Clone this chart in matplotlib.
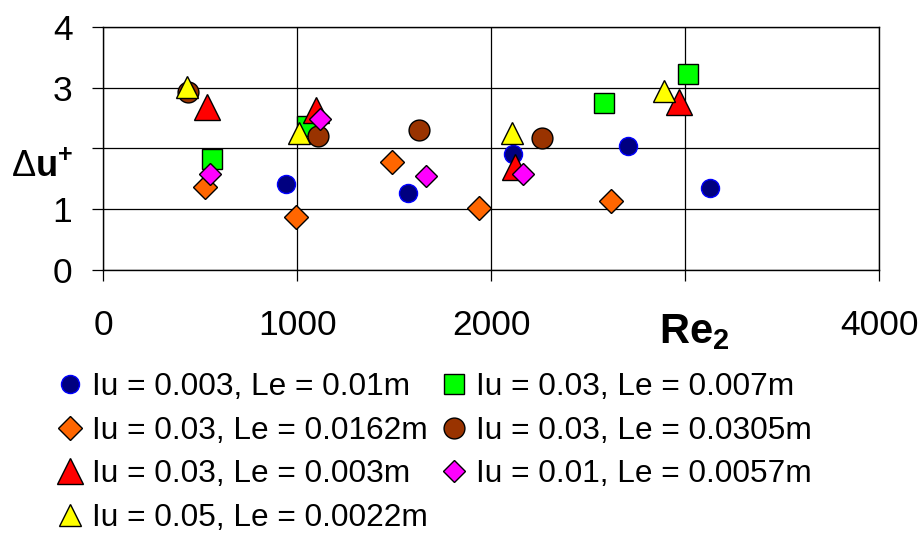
import matplotlib
matplotlib.use("Agg")
import matplotlib.pyplot as plt

plt.rcParams['font.family'] = ['Liberation Sans', 'DejaVu Sans']
plt.rcParams['mathtext.fontset'] = 'custom'
plt.rcParams['mathtext.rm'] = 'Liberation Sans'
plt.rcParams['mathtext.bf'] = 'Liberation Sans:bold'
plt.rcParams['mathtext.it'] = 'Liberation Sans:italic'

# ---- data ----
labels = ["Iu = 0.003, Le = 0.01m", "Iu = 0.03, Le = 0.007m",
          "Iu = 0.03, Le = 0.0162m", "Iu = 0.03, Le = 0.0305m",
          "Iu = 0.03, Le = 0.003m", "Iu = 0.01, Le = 0.0057m",
          "Iu = 0.05, Le = 0.0022m"]
re_blue = [941, 1569, 2113, 2706, 3127]
du_blue = [1.41, 1.27, 1.91, 2.04, 1.35]
re_green = [563, 1049, 2582, 3012]
du_green = [1.83, 2.37, 2.75, 3.22]
re_orange = [525, 996, 1490, 1937, 2620]
du_orange = [1.36, 0.87, 1.77, 1.02, 1.13]
re_brown = [439, 1109, 1628, 2261]
du_brown = [2.93, 2.20, 2.30, 2.17]
re_red = [534, 1100, 2122, 2967]
du_red = [2.68, 2.63, 1.70, 2.76]
re_magenta = [551, 1118, 1664, 2165]
du_magenta = [1.58, 2.48, 1.55, 1.58]
re_yellow = [434, 1011, 2108, 2890]
du_yellow = [3.01, 2.25, 2.25, 2.94]

x_ticks = [0, 1000, 2000, 3000, 4000]
x_tick_labels = ["0", "1000", "2000", "", "4000"]
y_ticks = [0, 1, 2, 3, 4]
y_tick_labels = ["0", "1", "", "3", "4"]

W, H = 922, 534
fig = plt.figure(figsize=(W / 100, H / 100), dpi=100)
ax = fig.add_axes([103 / W, 1 - 270 / H, (879.3 - 103) / W, (270 - 26.7) / H])

styles = [
    dict(marker='o', ms=13, mfc='#000080', mec='#0000FF', mew=1.0),
    dict(marker='s', ms=15, mfc='#00FF00', mec='black', mew=1.0),
    dict(marker='D', ms=12.7, mfc='#FF6600', mec='black', mew=1.0),
    dict(marker='o', ms=15, mfc='#993300', mec='black', mew=1.0),
    dict(marker='^', ms=18.5, mfc='#FF0000', mec='black', mew=1.0),
    dict(marker='D', ms=11.7, mfc='#FF00FF', mec='black', mew=1.0),
    dict(marker='^', ms=16, mfc='#FFFF00', mec='black', mew=1.0),
]
series = [(re_blue, du_blue), (re_green, du_green), (re_orange, du_orange),
          (re_brown, du_brown), (re_red, du_red), (re_magenta, du_magenta),
          (re_yellow, du_yellow)]

handles = []
for (xs, ys), st, lab in zip(series, styles, labels):
    h, = ax.plot(xs, ys, linestyle='none', label=lab, zorder=3, **st)
    handles.append(h)

ax.set_xlim(0, 4000)
ax.set_ylim(0, 4)
ax.set_xticks(x_ticks)
ax.set_xticklabels(x_tick_labels)
ax.set_yticks(y_ticks)
ax.set_yticklabels(y_tick_labels)
ax.grid(True, color='black', linewidth=0.9, zorder=0)
ax.set_axisbelow(True)
for s in ax.spines.values():
    s.set_linewidth(1.0)
    s.set_color('black')
ax.tick_params(axis='x', direction='out', length=8, width=0.9, pad=20, labelsize=25.5)
ax.tick_params(axis='y', direction='out', length=8, width=0.9, pad=14, labelsize=25.5)

# axis titles placed where Excel put them
fig.text(694 / W, 1 - 343.3 / H, r'$\mathbf{Re}_{\mathbf{2}}$', fontsize=30,
         ha='center', va='baseline')
fig.text(73 / W, 1 - 177 / H, r'$\Delta\mathbf{u}^{\mathbf{+}}$', fontsize=26,
         ha='right', va='baseline')

order = [0, 2, 4, 6, 1, 3, 5]
leg = fig.legend([handles[i] for i in order], [labels[i] for i in order],
                 ncol=2, loc='upper left', bbox_to_anchor=(54 / W, 1 - 372 / H),
                 frameon=False, fontsize=22.8, borderpad=0, borderaxespad=0,
                 handlelength=1.0, handletextpad=0.2, columnspacing=0.32,
                 labelspacing=0.43)

fig.savefig("out.png", dpi=100)
